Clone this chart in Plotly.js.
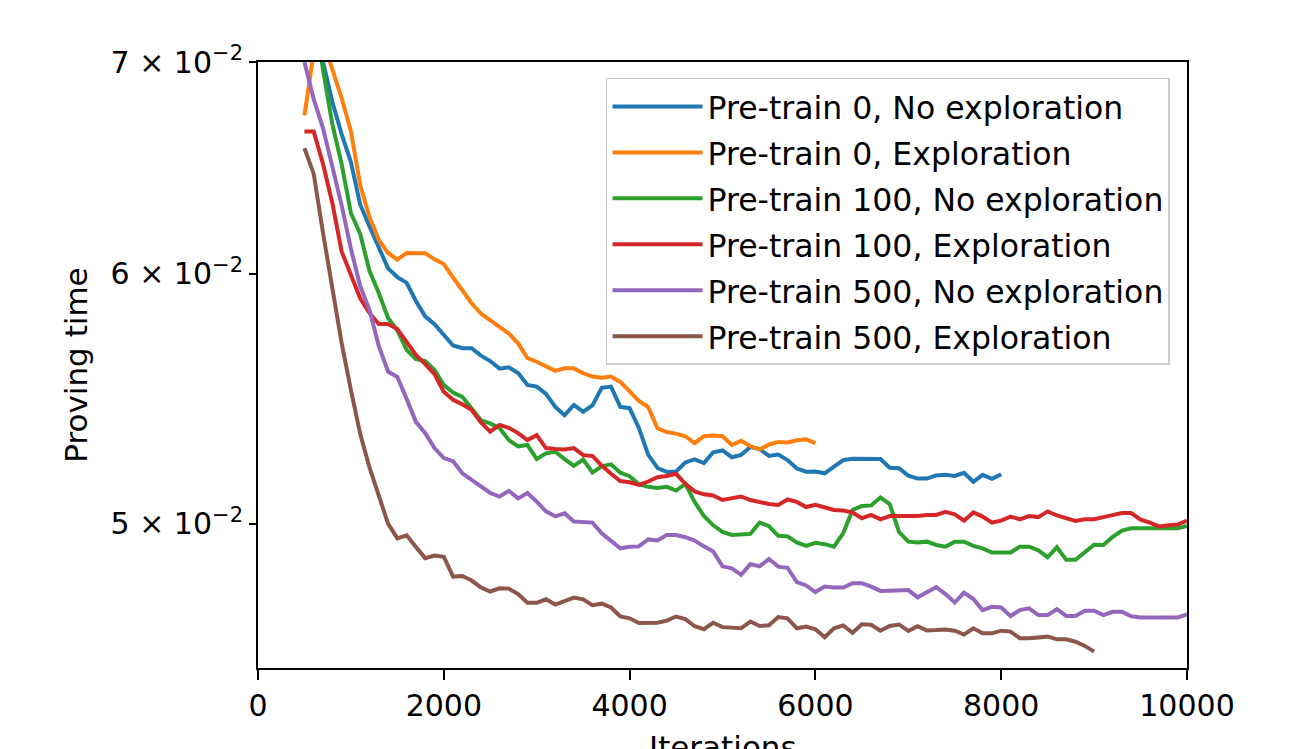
<!DOCTYPE html>
<html>
<head>
<meta charset="utf-8">
<script src="https://cdn.plot.ly/plotly-3.0.1.min.js"></script>
<style>
  html, body { margin: 0; padding: 0; background: #ffffff; }
  #chart { width: 1306px; height: 749px; }
</style>
</head>
<body>
<div id="chart"></div>
<script>
// Training iterations at which proving time was logged
const iterations = [
  500, 600, 700, 800, 900, 1000, 1100, 1200, 1300, 1400,
  1500, 1600, 1700, 1800, 1900, 2000, 2100, 2200, 2300, 2400,
  2500, 2600, 2700, 2800, 2900, 3000, 3100, 3200, 3300, 3400,
  3500, 3600, 3700, 3800, 3900, 4000, 4100, 4200, 4300, 4400,
  4500, 4600, 4700, 4800, 4900, 5000, 5100, 5200, 5300, 5400,
  5500, 5600, 5700, 5800, 5900, 6000, 6100, 6200, 6300, 6400,
  6500, 6600, 6700, 6800, 6900, 7000, 7100, 7200, 7300, 7400,
  7500, 7600, 7700, 7800, 7900, 8000, 8100, 8200, 8300, 8400,
  8500, 8600, 8700, 8800, 8900, 9000, 9100, 9200, 9300, 9400,
  9500, 9600, 9700, 9800, 9900, 10000
];

// Mean proving time per run
const pretrain0NoExpl = [
  0.0760, 0.0728, 0.0700, 0.06800, 0.06642, 0.06508, 0.06310, 0.06210, 0.06115, 0.06023,
  0.05985, 0.05960, 0.05882, 0.05816, 0.05783, 0.05738, 0.05694, 0.05683, 0.05683, 0.05652,
  0.05630, 0.05599, 0.05604, 0.05581, 0.05533, 0.05526, 0.05497, 0.05445, 0.05412, 0.05453,
  0.05426, 0.05451, 0.05521, 0.05526, 0.05445, 0.05440, 0.05362, 0.05259, 0.05208, 0.05193,
  0.05195, 0.05229, 0.05241, 0.05227, 0.05268, 0.05275, 0.05249, 0.05258, 0.05288, 0.05280,
  0.05254, 0.05259, 0.05238, 0.05206, 0.05194, 0.05195, 0.05188, 0.05213, 0.05238, 0.05243,
  0.05242, 0.05242, 0.05242, 0.05209, 0.05207, 0.05179, 0.05168, 0.05168, 0.05180, 0.05182,
  0.05178, 0.05190, 0.05156, 0.05182, 0.05167, 0.05184
];

const pretrain0Expl = [
  0.06733, 0.0705, 0.0711, 0.0696, 0.06819, 0.06656, 0.06400, 0.06253, 0.06149, 0.06091,
  0.06062, 0.06091, 0.06090, 0.06090, 0.06063, 0.06042, 0.05983, 0.05929, 0.05872, 0.05828,
  0.05801, 0.05769, 0.05744, 0.05703, 0.05642, 0.05627, 0.05610, 0.05590, 0.05600, 0.05600,
  0.05580, 0.05567, 0.05562, 0.05567, 0.05545, 0.05505, 0.05469, 0.05444, 0.05361, 0.05346,
  0.05340, 0.05330, 0.05303, 0.05330, 0.05333, 0.05330, 0.05296, 0.05312, 0.05291, 0.05279,
  0.05298, 0.05308, 0.05306, 0.05314, 0.05318, 0.05303
];

const pretrain100NoExpl = [
  0.0765, 0.0728, 0.0696, 0.06691, 0.06499, 0.06271, 0.06176, 0.06012, 0.05916, 0.05809,
  0.05757, 0.05676, 0.05638, 0.05630, 0.05593, 0.05532, 0.05502, 0.05485, 0.05437, 0.05392,
  0.05380, 0.05362, 0.05315, 0.05291, 0.05296, 0.05242, 0.05264, 0.05270, 0.05242, 0.05216,
  0.05240, 0.05191, 0.05214, 0.05222, 0.05190, 0.05177, 0.05147, 0.05137, 0.05133, 0.05137,
  0.05123, 0.05148, 0.05081, 0.05029, 0.04995, 0.04971, 0.04960, 0.04962, 0.04964, 0.05005,
  0.04992, 0.04957, 0.04955, 0.04933, 0.04921, 0.04932, 0.04927, 0.04918, 0.04967, 0.05051,
  0.05066, 0.05068, 0.05097, 0.05073, 0.04971, 0.04936, 0.04933, 0.04936, 0.04924, 0.04918,
  0.04936, 0.04936, 0.04921, 0.04912, 0.04897, 0.04897, 0.04897, 0.04918, 0.04918, 0.04905,
  0.04880, 0.04916, 0.04871, 0.04871, 0.04900, 0.04925, 0.04924, 0.04953, 0.04976, 0.04984,
  0.04984, 0.04984, 0.04984, 0.04984, 0.04984, 0.04993
];

const pretrain100Expl = [
  0.06654, 0.06654, 0.06499, 0.06317, 0.06098, 0.05999, 0.05893, 0.05830, 0.05784, 0.05784,
  0.05763, 0.05709, 0.05655, 0.05617, 0.05577, 0.05505, 0.05473, 0.05455, 0.05433, 0.05384,
  0.05348, 0.05374, 0.05363, 0.05342, 0.05315, 0.05334, 0.05284, 0.05281, 0.05279, 0.05284,
  0.05257, 0.05254, 0.05217, 0.05186, 0.05159, 0.05154, 0.05144, 0.05157, 0.05173, 0.05178,
  0.05186, 0.05148, 0.05120, 0.05109, 0.05105, 0.05088, 0.05096, 0.05101, 0.05088, 0.05079,
  0.05073, 0.05070, 0.05090, 0.05081, 0.05062, 0.05070, 0.05062, 0.05051, 0.05049, 0.05042,
  0.05021, 0.05033, 0.05017, 0.05029, 0.05029, 0.05029, 0.05029, 0.05033, 0.05033, 0.05044,
  0.05035, 0.05012, 0.05042, 0.05027, 0.05005, 0.05012, 0.05027, 0.05017, 0.05029, 0.05025,
  0.05046, 0.05031, 0.05020, 0.05011, 0.05017, 0.05017, 0.05025, 0.05033, 0.05040, 0.05040,
  0.05016, 0.05005, 0.04991, 0.04995, 0.04998, 0.05012
];

const pretrain500NoExpl = [
  0.0700, 0.06813, 0.06670, 0.06494, 0.06307, 0.06110, 0.05946, 0.05843, 0.05692, 0.05587,
  0.05565, 0.05477, 0.05386, 0.05342, 0.05284, 0.05246, 0.05234, 0.05188, 0.05164, 0.05137,
  0.05114, 0.05101, 0.05122, 0.05094, 0.05114, 0.05082, 0.05046, 0.05028, 0.05039, 0.05009,
  0.05006, 0.05005, 0.04966, 0.04940, 0.04912, 0.04918, 0.04919, 0.04944, 0.04940, 0.04960,
  0.04960, 0.04952, 0.04940, 0.04919, 0.04901, 0.04848, 0.04841, 0.04818, 0.04856, 0.04848,
  0.04874, 0.04847, 0.04843, 0.04793, 0.04781, 0.04758, 0.04777, 0.04774, 0.04774, 0.04789,
  0.04789, 0.04777, 0.04762, 0.04763, 0.04763, 0.04765, 0.04740, 0.04759, 0.04775, 0.04751,
  0.04722, 0.04756, 0.04734, 0.04696, 0.04707, 0.04705, 0.04675, 0.04696, 0.04702, 0.04679,
  0.04679, 0.04699, 0.04676, 0.04676, 0.04694, 0.04694, 0.04679, 0.04690, 0.04690, 0.04675,
  0.04671, 0.04671, 0.04671, 0.04671, 0.04671, 0.04681
];

const pretrain500Expl = [
  0.06574, 0.06452, 0.06180, 0.05925, 0.05705, 0.05513, 0.05339, 0.05210, 0.05110, 0.05001,
  0.04948, 0.04959, 0.04917, 0.04877, 0.04886, 0.04882, 0.04812, 0.04814, 0.04798, 0.04774,
  0.04760, 0.04771, 0.04770, 0.04751, 0.04721, 0.04721, 0.04733, 0.04715, 0.04727, 0.04739,
  0.04733, 0.04713, 0.04718, 0.04705, 0.04674, 0.04668, 0.04652, 0.04653, 0.04653, 0.04660,
  0.04674, 0.04665, 0.04641, 0.04631, 0.04653, 0.04638, 0.04636, 0.04634, 0.04657, 0.04642,
  0.04644, 0.04672, 0.04668, 0.04634, 0.04640, 0.04631, 0.04604, 0.04634, 0.04644, 0.04619,
  0.04648, 0.04646, 0.04626, 0.04642, 0.04647, 0.04625, 0.04641, 0.04627, 0.04628, 0.04630,
  0.04626, 0.04613, 0.04634, 0.04617, 0.04617, 0.04626, 0.04623, 0.04601, 0.04601, 0.04604,
  0.04606, 0.04597, 0.04597, 0.04589, 0.04575, 0.04556
];

const seriesNames = [
  'Pre-train 0, No exploration',
  'Pre-train 0, Exploration',
  'Pre-train 100, No exploration',
  'Pre-train 100, Exploration',
  'Pre-train 500, No exploration',
  'Pre-train 500, Exploration'
];
const seriesValues = [
  pretrain0NoExpl, pretrain0Expl, pretrain100NoExpl,
  pretrain100Expl, pretrain500NoExpl, pretrain500Expl
];
const seriesColors = ['#1f77b4', '#ff7f0e', '#2ca02c', '#d62728', '#9467bd', '#8c564b'];

const xTicks = [0, 2000, 4000, 6000, 8000, 10000];
const xTickLabels = ['0', '2000', '4000', '6000', '8000', '10000'];
const yTicks = [0.05, 0.06, 0.07];
const yTickLabels = ['5 × 10<sup>−2</sup>', '6 × 10<sup>−2</sup>', '7 × 10<sup>−2</sup>'];
const yLimits = [0.04502, 0.07];
const xTitle = 'Iterations';
const yTitle = 'Proving time';

const traces = seriesValues.map((vals, i) => ({
  type: 'scatter',
  mode: 'lines',
  name: seriesNames[i],
  legendgroup: 'g' + i,
  x: iterations.slice(0, vals.length),
  y: vals,
  line: { color: seriesColors[i], width: 4 }
}));

const FONT = 'DejaVu Sans, Liberation Sans, sans-serif';

const layout = {
  width: 1306,
  height: 749,
  margin: { l: 258, r: 119, t: 62, b: 81, pad: 0 },
  paper_bgcolor: '#ffffff',
  plot_bgcolor: '#ffffff',
  font: { family: FONT, size: 30, color: '#000000' },
  showlegend: true,
  legend: {
    x: 0.9817, xanchor: 'right',
    y: 0.9736, yanchor: 'top',
    bgcolor: 'rgba(255,255,255,0.8)',
    bordercolor: '#cccccc',
    borderwidth: 1.5,
    traceorder: 'grouped',
    tracegroupgap: 2,
    itemwidth: 90,
    font: { family: FONT, size: 31.5, color: '#000000' }
  },
  // x-axis label sits low, partly past the bottom edge of the figure
  annotations: [{
    text: xTitle,
    xref: 'paper', yref: 'paper',
    x: 0.5, y: -0.0974,
    xanchor: 'center', yanchor: 'top',
    showarrow: false,
    font: { family: FONT, size: 31, color: '#000000' }
  }],
  xaxis: {
    range: [0, 10000],
    tickmode: 'array',
    tickvals: xTicks,
    ticktext: xTickLabels,
    ticks: 'outside',
    ticklen: 10,
    tickwidth: 2,
    tickcolor: '#000000',
    showline: true,
    linecolor: '#000000',
    linewidth: 2,
    mirror: true,
    showgrid: false,
    zeroline: false,
    automargin: false,
    tickfont: { family: FONT, size: 30, color: '#000000' }
  },
  yaxis: {
    type: 'log',
    range: [Math.log10(yLimits[0]), Math.log10(yLimits[1])],
    tickmode: 'array',
    tickvals: yTicks,
    ticktext: yTickLabels,
    ticks: 'outside',
    ticklen: 7,
    tickwidth: 2,
    tickcolor: '#000000',
    showline: true,
    linecolor: '#000000',
    linewidth: 2,
    mirror: true,
    showgrid: false,
    zeroline: false,
    automargin: false,
    tickfont: { family: FONT, size: 30, color: '#000000' },
    title: { text: yTitle, standoff: 14, font: { family: FONT, size: 31, color: '#000000' } }
  }
};

Plotly.newPlot('chart', traces, layout, { displayModeBar: false, staticPlot: true });
</script>
</body>
</html>
